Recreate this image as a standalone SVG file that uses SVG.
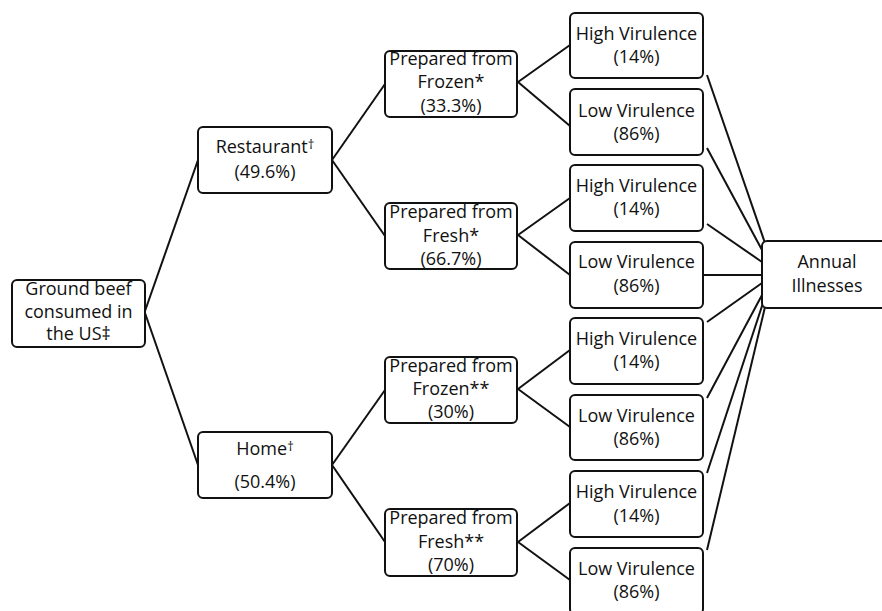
<svg xmlns="http://www.w3.org/2000/svg" width="882" height="611" viewBox="0 0 882 611">
<style>
.box{fill:#fff;stroke:#111;stroke-width:2}
.t{font-family:"Open Sans","Liberation Sans",sans-serif;font-size:18px;fill:#111;text-anchor:middle}
.c line{stroke:#111;stroke-width:2}
.sup{font-size:13px}
</style>
<rect width="882" height="611" fill="#fff"/>
<g class="c" id="connectors">
<line x1="145" y1="311" x2="198" y2="160"/>
<line x1="145" y1="313" x2="198" y2="465"/>
<line x1="332" y1="160" x2="385" y2="84"/>
<line x1="332" y1="160" x2="385" y2="236"/>
<line x1="332" y1="465" x2="385" y2="390"/>
<line x1="332" y1="465" x2="385" y2="542"/>
<line x1="518" y1="82" x2="570" y2="45"/>
<line x1="518" y1="82" x2="570" y2="126"/>
<line x1="518" y1="235" x2="570" y2="198"/>
<line x1="518" y1="235" x2="570" y2="275"/>
<line x1="518" y1="389" x2="570" y2="350"/>
<line x1="518" y1="389" x2="570" y2="427"/>
<line x1="518" y1="542" x2="570" y2="503"/>
<line x1="518" y1="542" x2="570" y2="580"/>
<line x1="707" y1="75" x2="765" y2="243"/>
<line x1="707" y1="148" x2="762" y2="250"/>
<line x1="707" y1="224" x2="762" y2="262"/>
<line x1="703" y1="275" x2="762" y2="275"/>
<line x1="707" y1="322" x2="762" y2="283"/>
<line x1="707" y1="398" x2="762" y2="295"/>
<line x1="707" y1="473" x2="763" y2="303"/>
<line x1="707" y1="550" x2="765" y2="307"/>
</g>
<g id="root"><rect class="box" x="12" y="280" width="133" height="67" rx="5"/>
<text class="t" x="78.5" y="295">Ground beef</text><text class="t" x="78.5" y="318">consumed in</text><text class="t" x="78.5" y="340">the US‡</text></g>
<g id="restaurant"><rect class="box" x="198" y="127" width="134" height="66" rx="5"/>
<text class="t" x="265" y="153">Restaurant<tspan class="sup" dy="-4">†</tspan></text><text class="t" x="265" y="178">(49.6%)</text></g>
<g id="home"><rect class="box" x="198" y="432" width="134" height="66" rx="5"/>
<text class="t" x="265" y="455">Home<tspan class="sup" dy="-4">†</tspan></text><text class="t" x="265" y="488">(50.4%)</text></g>
<g id="rest-frozen"><rect class="box" x="385" y="51" width="132" height="66" rx="5"/>
<text class="t" x="451" y="65">Prepared from</text><text class="t" x="451" y="88">Frozen*</text><text class="t" x="451" y="112">(33.3%)</text></g>
<g id="rest-fresh"><rect class="box" x="385" y="203" width="132" height="66" rx="5"/>
<text class="t" x="451" y="218">Prepared from</text><text class="t" x="451" y="242">Fresh*</text><text class="t" x="451" y="265">(66.7%)</text></g>
<g id="home-frozen"><rect class="box" x="385" y="357" width="132" height="66" rx="5"/>
<text class="t" x="451" y="372">Prepared from</text><text class="t" x="451" y="395">Frozen**</text><text class="t" x="451" y="418">(30%)</text></g>
<g id="home-fresh"><rect class="box" x="385" y="509" width="132" height="67" rx="5"/>
<text class="t" x="451" y="524">Prepared from</text><text class="t" x="451" y="548">Fresh**</text><text class="t" x="451" y="571">(70%)</text></g>
<g id="hv1"><rect class="box" x="570" y="13" width="133" height="65" rx="5"/>
<text class="t" x="636.5" y="40">High Virulence</text><text class="t" x="636.5" y="63">(14%)</text></g>
<g id="lv1"><rect class="box" x="570" y="89" width="133" height="66" rx="5"/>
<text class="t" x="636.5" y="117">Low Virulence</text><text class="t" x="636.5" y="140">(86%)</text></g>
<g id="hv2"><rect class="box" x="570" y="165" width="133" height="66" rx="5"/>
<text class="t" x="636.5" y="192">High Virulence</text><text class="t" x="636.5" y="215">(14%)</text></g>
<g id="lv2"><rect class="box" x="570" y="242" width="133" height="66" rx="5"/>
<text class="t" x="636.5" y="268">Low Virulence</text><text class="t" x="636.5" y="292">(86%)</text></g>
<g id="hv3"><rect class="box" x="570" y="318" width="133" height="66" rx="5"/>
<text class="t" x="636.5" y="345">High Virulence</text><text class="t" x="636.5" y="368">(14%)</text></g>
<g id="lv3"><rect class="box" x="570" y="395" width="133" height="65" rx="5"/>
<text class="t" x="636.5" y="422">Low Virulence</text><text class="t" x="636.5" y="445">(86%)</text></g>
<g id="hv4"><rect class="box" x="570" y="471" width="133" height="66" rx="5"/>
<text class="t" x="636.5" y="498">High Virulence</text><text class="t" x="636.5" y="522">(14%)</text></g>
<g id="lv4"><rect class="box" x="570" y="548" width="133" height="66" rx="5"/>
<text class="t" x="636.5" y="575">Low Virulence</text><text class="t" x="636.5" y="598">(86%)</text></g>
<g id="annual"><rect class="box" x="762" y="241" width="130" height="67" rx="5"/>
<text class="t" x="827" y="268">Annual</text><text class="t" x="827" y="292">Illnesses</text></g>
</svg>
